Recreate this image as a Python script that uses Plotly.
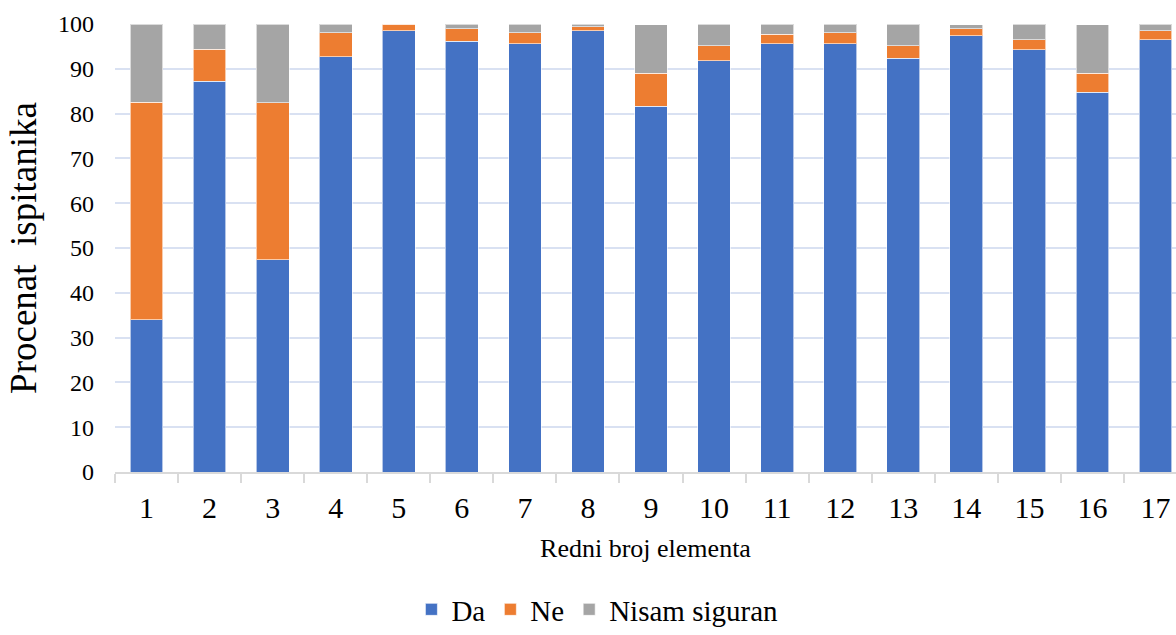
import plotly.graph_objects as go

# Redni broj elementa (1-17)
elements = [str(i) for i in range(1, 18)]

# Procenat ispitanika po odgovoru
da = [34.0, 87.2, 47.4, 92.7, 98.5, 96.1, 95.6, 98.5, 81.6, 91.8, 95.6, 95.6, 92.4, 97.4, 94.2, 84.8, 96.5]
ne = [48.5, 7.2, 35.0, 5.3, 1.5, 2.8, 2.5, 0.9, 7.4, 3.4, 2.1, 2.5, 2.8, 1.5, 2.3, 4.2, 2.0]
nisam = [17.5, 5.6, 17.6, 2.0, 0.0, 1.1, 1.9, 0.6, 10.8, 4.8, 2.3, 1.9, 4.8, 0.9, 3.5, 10.8, 1.5]

series = [("Da", da, "#4472C4"), ("Ne", ne, "#ED7D31"), ("Nisam siguran", nisam, "#A5A5A5")]

font_family = "Liberation Serif"

fig = go.Figure()
for name, vals, color in series:
    fig.add_trace(go.Bar(
        x=elements, y=vals, name=name,
        marker=dict(color=color, line=dict(color="rgba(255,255,255,0.6)", width=1)),
    ))

fig.update_layout(
    barmode="stack",
    bargap=0.48,
    width=1176, height=635,
    margin=dict(l=115, r=0, t=24, b=163, autoexpand=False),
    paper_bgcolor="white", plot_bgcolor="white",
    font=dict(family=font_family, color="black"),
    showlegend=True,
    legend=dict(orientation="h", xref="container", x=0.508, xanchor="center",
                yref="container", y=0.0, yanchor="bottom",
                font=dict(size=29, family=font_family), traceorder="normal",
                itemwidth=30, tracegroupgap=0),
)

fig.update_xaxes(
    type="category",
    range=[-0.5, 16.325],
    showgrid=False,
    showline=True, linecolor="#D9D9D9", linewidth=1.5,
    ticks="outside", tickson="boundaries", ticklen=9, tickcolor="#D9D9D9", tickwidth=1.5,
    tickfont=dict(size=30, family=font_family),
    ticklabelstandoff=8,
    title=dict(text="Redni broj elementa", font=dict(size=26, family=font_family), standoff=16),
)

fig.update_yaxes(
    range=[0, 100], dtick=10,
    showgrid=True, gridcolor="#D9E1F2", gridwidth=1.5,
    zeroline=False, showline=False,
    tickfont=dict(size=24, family=font_family),
    ticklabelstandoff=20,
    title=dict(text="Procenat  ispitanika", font=dict(size=37, family=font_family), standoff=10),
)

fig.write_html("out.html")
